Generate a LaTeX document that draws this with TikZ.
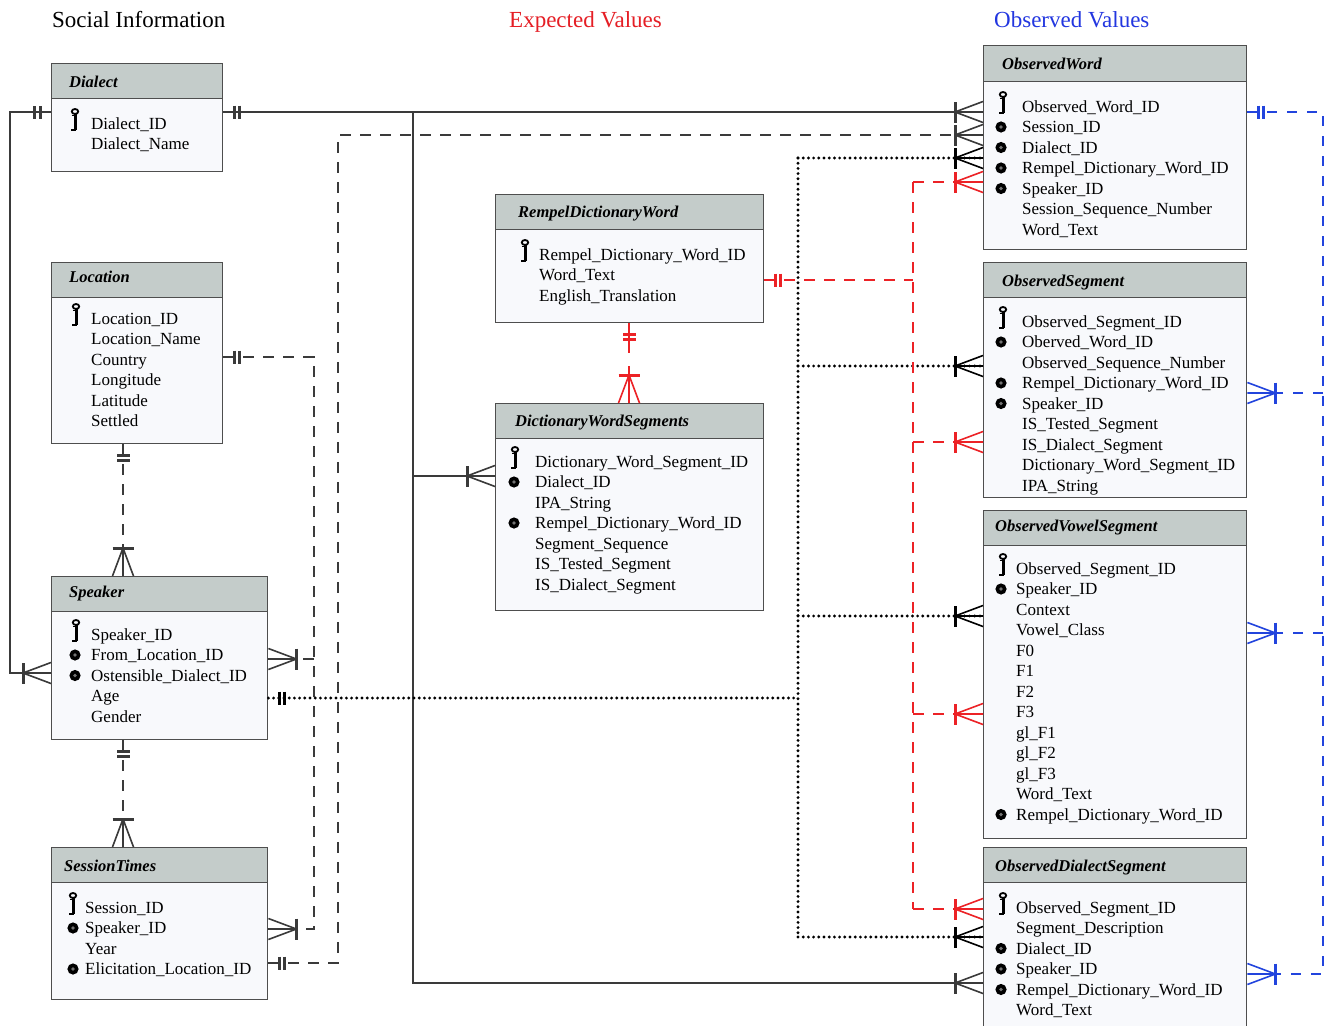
\documentclass[tikz,border=0pt]{standalone}
\usepackage{fontspec}
\setmainfont{Liberation Serif}
\definecolor{boxc}{HTML}{4E4E4E}
\definecolor{hdrc}{HTML}{C4CCCA}
\definecolor{bodyc}{HTML}{F8F9FC}
\definecolor{linec}{HTML}{3A3A3A}
\definecolor{erred}{HTML}{EC2226}
\definecolor{erblue}{HTML}{2244DD}
\definecolor{headred}{HTML}{E51E25}
\definecolor{headblue}{HTML}{2236E0}
\newcommand\rowfont{\fontsize{17}{20}\selectfont}
\newcommand\ttlfont{\fontsize{16.5}{20}\selectfont\bfseries\itshape}
% rows of a table: prefix, x, first baseline, list of fields
\newcommand\rowlist[4]{%
  \foreach [count=\i from 0] \t in {#4}
    \node[rowtxt] (#1\i) at (#2,{#3+\i*20.5}) {\t};}
\begin{document}
\begin{tikzpicture}[x=1pt,y=-1pt,
  box/.style={draw=boxc, fill=bodyc, line width=1.4, anchor=north west, inner sep=0},
  hdr/.style={draw=boxc, fill=hdrc, line width=1.4, anchor=north west, inner sep=0, minimum height=35},
  ttl/.style={anchor=base west, inner sep=0, font=\ttlfont},
  rowtxt/.style={anchor=base west, inner sep=0, font=\rowfont},
  heading/.style={anchor=base west, inner sep=0, font=\fontsize{23}{26}\selectfont},
  solidc/.style={draw=linec, line width=1.5},
  dashc/.style={draw=linec, line width=1.5, dash pattern=on 11pt off 9pt},
  dotc/.style={draw=black, line width=3.2, dash pattern=on 0pt off 5.2pt, line cap=round},
  reddash/.style={draw=erred, line width=1.6, dash pattern=on 11pt off 9pt},
  bluedash/.style={draw=erblue, line width=1.7, dash pattern=on 10pt off 10pt},
  crowmany/.pic={
    \draw[line width=1.6] (28,0) -- (0,-10.5) (28,0) -- (0,0) (28,0) -- (0,10.5);
    \draw[line width=3] (28,-10.5) -- (28,10.5);
  },
  onlyone/.pic={
    \draw[line width=3] (11,-6.5) -- (11,6.5) (16.5,-6.5) -- (16.5,6.5);
  },
  pkey/.pic={
    \draw[line width=1.8] (0,-17.5) ellipse [x radius=3.2, y radius=2.5];
    \draw[line width=3] (0,-15) -- (0,1.2);
    \draw[line width=2.2] (0.8,1.2) -- (-3.8,1.2);
    \draw[line width=1.8] (-3.2,-13.5) -- (0,-13.5);
  },
  pdot/.pic={
    \fill[black] (0,-5.5) circle (5.6);
    \fill[black!55] (0,-5.5) circle (1.8);
  }]
\useasboundingbox (0,0) rectangle (1327,1025);
\clip (0,0) rectangle (1327,1025);
\fill[white] (0,0) rectangle (1327,1025);

% column headings
\node[heading] (hsoc) at (52,28) {Social Information};
\node[heading, text=headred] (hexp) at (509,28) {Expected Values};
\node[heading, text=headblue] (hobs) at (994,28) {Observed Values};

% ---------- tables ----------
% Dialect
\node[box, minimum width=171, minimum height=108] (dl) at (51,63) {};
\node[hdr, minimum width=171] (dlh) at (51,63) {};
\node[ttl] (dlt) at (69,87.5) {Dialect};
\rowlist{dlr}{91}{129}{Dialect\_ID, Dialect\_Name}
\pic at (75,129) {pkey};

% Location
\node[box, minimum width=171, minimum height=181] (lo) at (51,262) {};
\node[hdr, minimum width=171] (loh) at (51,262) {};
\node[ttl] (lot) at (69,282.5) {Location};
\rowlist{lor}{91}{324}{Location\_ID, Location\_Name, Country, Longitude, Latitude, Settled}
\pic at (76,324) {pkey};

% Speaker
\node[box, minimum width=216, minimum height=163] (sp) at (51,576) {};
\node[hdr, minimum width=216] (sph) at (51,576) {};
\node[ttl] (spt) at (69,597.5) {Speaker};
\rowlist{spr}{91}{640}{Speaker\_ID, From\_Location\_ID, Ostensible\_Dialect\_ID, Age, Gender}
\pic at (76,640) {pkey};
\pic at (75,660.5) {pdot};
\pic at (75,681) {pdot};

% SessionTimes
\node[box, minimum width=216, minimum height=152] (st) at (51,847) {};
\node[hdr, minimum width=216] (sth) at (51,847) {};
\node[ttl] (stt) at (64,871.5) {SessionTimes};
\rowlist{str}{85}{913}{Session\_ID, Speaker\_ID, Year, Elicitation\_Location\_ID}
\pic at (73,913) {pkey};
\pic at (73,933.5) {pdot};
\pic at (73,974.5) {pdot};

% RempelDictionaryWord
\node[box, minimum width=268, minimum height=128] (rdw) at (495,194) {};
\node[hdr, minimum width=268] (rdwh) at (495,194) {};
\node[ttl] (rdwt) at (518,217.5) {RempelDictionaryWord};
\rowlist{rdwr}{539}{260}{Rempel\_Dictionary\_Word\_ID, Word\_Text, English\_Translation}
\pic at (525,260) {pkey};

% DictionaryWordSegments
\node[box, minimum width=268, minimum height=207] (dws) at (495,403) {};
\node[hdr, minimum width=268] (dwsh) at (495,403) {};
\node[ttl] (dwst) at (515,426.5) {DictionaryWordSegments};
\rowlist{dwsr}{535}{467}{Dictionary\_Word\_Segment\_ID, Dialect\_ID, IPA\_String, Rempel\_Dictionary\_Word\_ID, Segment\_Sequence, IS\_Tested\_Segment, IS\_Dialect\_Segment}
\pic at (515,467) {pkey};
\pic at (514,487.5) {pdot};
\pic at (514,528.5) {pdot};

% ObservedWord
\node[box, minimum width=263, minimum height=204] (ow) at (983,45) {};
\node[hdr, minimum width=263, minimum height=36] (owh) at (983,45) {};
\node[ttl] (owt) at (1002,69.5) {ObservedWord};
\rowlist{owr}{1022}{112}{Observed\_Word\_ID, Session\_ID, Dialect\_ID, Rempel\_Dictionary\_Word\_ID, Speaker\_ID, Session\_Sequence\_Number, Word\_Text}
\pic at (1003,112) {pkey};
\foreach \yy in {132.5,153,173.5,194} \pic at (1001,\yy) {pdot};

% ObservedSegment
\node[box, minimum width=263, minimum height=235] (os) at (983,262) {};
\node[hdr, minimum width=263] (osh) at (983,262) {};
\node[ttl] (ost) at (1002,286.5) {ObservedSegment};
\rowlist{osr}{1022}{327}{Observed\_Segment\_ID, Oberved\_Word\_ID, Observed\_Sequence\_Number, Rempel\_Dictionary\_Word\_ID, Speaker\_ID, IS\_Tested\_Segment, IS\_Dialect\_Segment, Dictionary\_Word\_Segment\_ID, IPA\_String}
\pic at (1003,327) {pkey};
\foreach \yy in {347.5,388.5,409} \pic at (1001,\yy) {pdot};

% ObservedVowelSegment
\node[box, minimum width=263, minimum height=328] (ovs) at (983,510) {};
\node[hdr, minimum width=263] (ovsh) at (983,510) {};
\node[ttl] (ovst) at (995,531.5) {ObservedVowelSegment};
\rowlist{ovsr}{1016}{574}{Observed\_Segment\_ID, Speaker\_ID, Context, Vowel\_Class, F0, F1, F2, F3, gl\_F1, gl\_F2, gl\_F3, Word\_Text, Rempel\_Dictionary\_Word\_ID}
\pic at (1003,574) {pkey};
\foreach \yy in {594.5,820} \pic at (1001,\yy) {pdot};

% ObservedDialectSegment
\node[box, minimum width=263, minimum height=200] (ods) at (983,847) {};
\node[hdr, minimum width=263] (odsh) at (983,847) {};
\node[ttl] (odst) at (995,871.5) {ObservedDialectSegment};
\rowlist{odsr}{1016}{913}{Observed\_Segment\_ID, Segment\_Description, Dialect\_ID, Speaker\_ID, Rempel\_Dictionary\_Word\_ID, Word\_Text}
\pic at (1003,913) {pkey};
\foreach \yy in {954,974.5,995} \pic at (1001,\yy) {pdot};

% ---------- relationships ----------
% Dialect -> Speaker
\draw[solidc] (dl.west |- 0,112) -- (10,112) -- (10,673) -- (sp.west |- 0,673);
\pic[linec] at (dl.west |- 0,112) [rotate=180] {onlyone};
\pic[linec] at (sp.west |- 0,673) [rotate=180] {crowmany};

% Dialect -> ObservedWord, DictionaryWordSegments, ObservedDialectSegment
\draw[solidc] (dl.east |- 0,112) -- (ow.west |- 0,112);
\draw[solidc] (413,112) -- (413,983) -- (ods.west |- 0,983);
\draw[solidc] (413,476) -- (dws.west |- 0,476);
\pic[linec] at (dl.east |- 0,112) {onlyone};
\pic[linec] at (ow.west |- 0,112) [rotate=180] {crowmany};
\pic[linec] at (dws.west |- 0,476) [rotate=180] {crowmany};
\pic[linec] at (ods.west |- 0,983) [rotate=180] {crowmany};

% SessionTimes -> ObservedWord
\draw[dashc] (st.east |- 0,963) -- (338,963) -- (338,135) -- (ow.west |- 0,135);
\pic[linec] at (st.east |- 0,963) {onlyone};
\pic[linec] at (ow.west |- 0,135) [rotate=180] {crowmany};

% Location -> Speaker, SessionTimes
\draw[dashc] (lo.east |- 0,357) -- (314,357) -- (314,929) -- (st.east |- 0,929);
\draw[dashc] (314,659) -- (sp.east |- 0,659);
\pic[linec] at (lo.east |- 0,357) {onlyone};
\pic[linec] at (sp.east |- 0,659) {crowmany};
\pic[linec] at (st.east |- 0,929) {crowmany};

% Location -> Speaker (vertical)
\draw[dashc] (lo.south -| 123,0) -- (sp.north -| 123,0);
\pic[linec] at (lo.south -| 123,0) [rotate=-90] {onlyone};
\pic[linec] at (sp.north -| 123,0) [rotate=90] {crowmany};

% Speaker -> SessionTimes
\draw[dashc] (sp.south -| 123,0) -- (st.north -| 123,0);
\pic[linec] at (sp.south -| 123,0) [rotate=-90] {onlyone};
\pic[linec] at (st.north -| 123,0) [rotate=90] {crowmany};

% Speaker -> observed tables (dotted)
\draw[dotc] (sp.east |- 0,698) -- (798,698);
\draw[dotc] (798,158) -- (798,937);
\draw[dotc] (798,158) -- (ow.west |- 0,158);
\draw[dotc] (798,366) -- (os.west |- 0,366);
\draw[dotc] (798,616) -- (ovs.west |- 0,616);
\draw[dotc] (798,937) -- (ods.west |- 0,937);
\pic[black] at (sp.east |- 0,698) {onlyone};
\pic[black] at (ow.west |- 0,158) [rotate=180] {crowmany};
\pic[black] at (os.west |- 0,366) [rotate=180] {crowmany};
\pic[black] at (ovs.west |- 0,616) [rotate=180] {crowmany};
\pic[black] at (ods.west |- 0,937) [rotate=180] {crowmany};

% RempelDictionaryWord -> observed tables (expected values)
\draw[reddash] (rdw.east |- 0,280) -- (913,280);
\draw[reddash] (913,182) -- (913,909);
\draw[reddash] (913,182) -- (ow.west |- 0,182);
\draw[reddash] (913,442) -- (os.west |- 0,442);
\draw[reddash] (913,714) -- (ovs.west |- 0,714);
\draw[reddash] (913,909) -- (ods.west |- 0,909);
\pic[erred] at (rdw.east |- 0,280) {onlyone};
\pic[erred] at (ow.west |- 0,182) [rotate=180] {crowmany};
\pic[erred] at (os.west |- 0,442) [rotate=180] {crowmany};
\pic[erred] at (ovs.west |- 0,714) [rotate=180] {crowmany};
\pic[erred] at (ods.west |- 0,909) [rotate=180] {crowmany};

% RempelDictionaryWord -> DictionaryWordSegments
\draw[draw=erred, line width=1.6, dash pattern=on 30pt off 13pt] (rdw.south -| 629,0) -- (dws.north -| 629,0);
\pic[erred] at (rdw.south -| 629,0) [rotate=-90] {onlyone};
\pic[erred] at (dws.north -| 629,0) [rotate=90] {crowmany};

% ObservedWord -> segment tables (observed values)
\draw[bluedash] (ow.east |- 0,112) -- (1323,112) -- (1323,974) -- (ods.east |- 0,974);
\draw[bluedash] (1323,393) -- (os.east |- 0,393);
\draw[bluedash] (1323,633) -- (ovs.east |- 0,633);
\pic[erblue] at (ow.east |- 0,112) {onlyone};
\pic[erblue] at (os.east |- 0,393) {crowmany};
\pic[erblue] at (ovs.east |- 0,633) {crowmany};
\pic[erblue] at (ods.east |- 0,974) {crowmany};
\end{tikzpicture}
\end{document}
